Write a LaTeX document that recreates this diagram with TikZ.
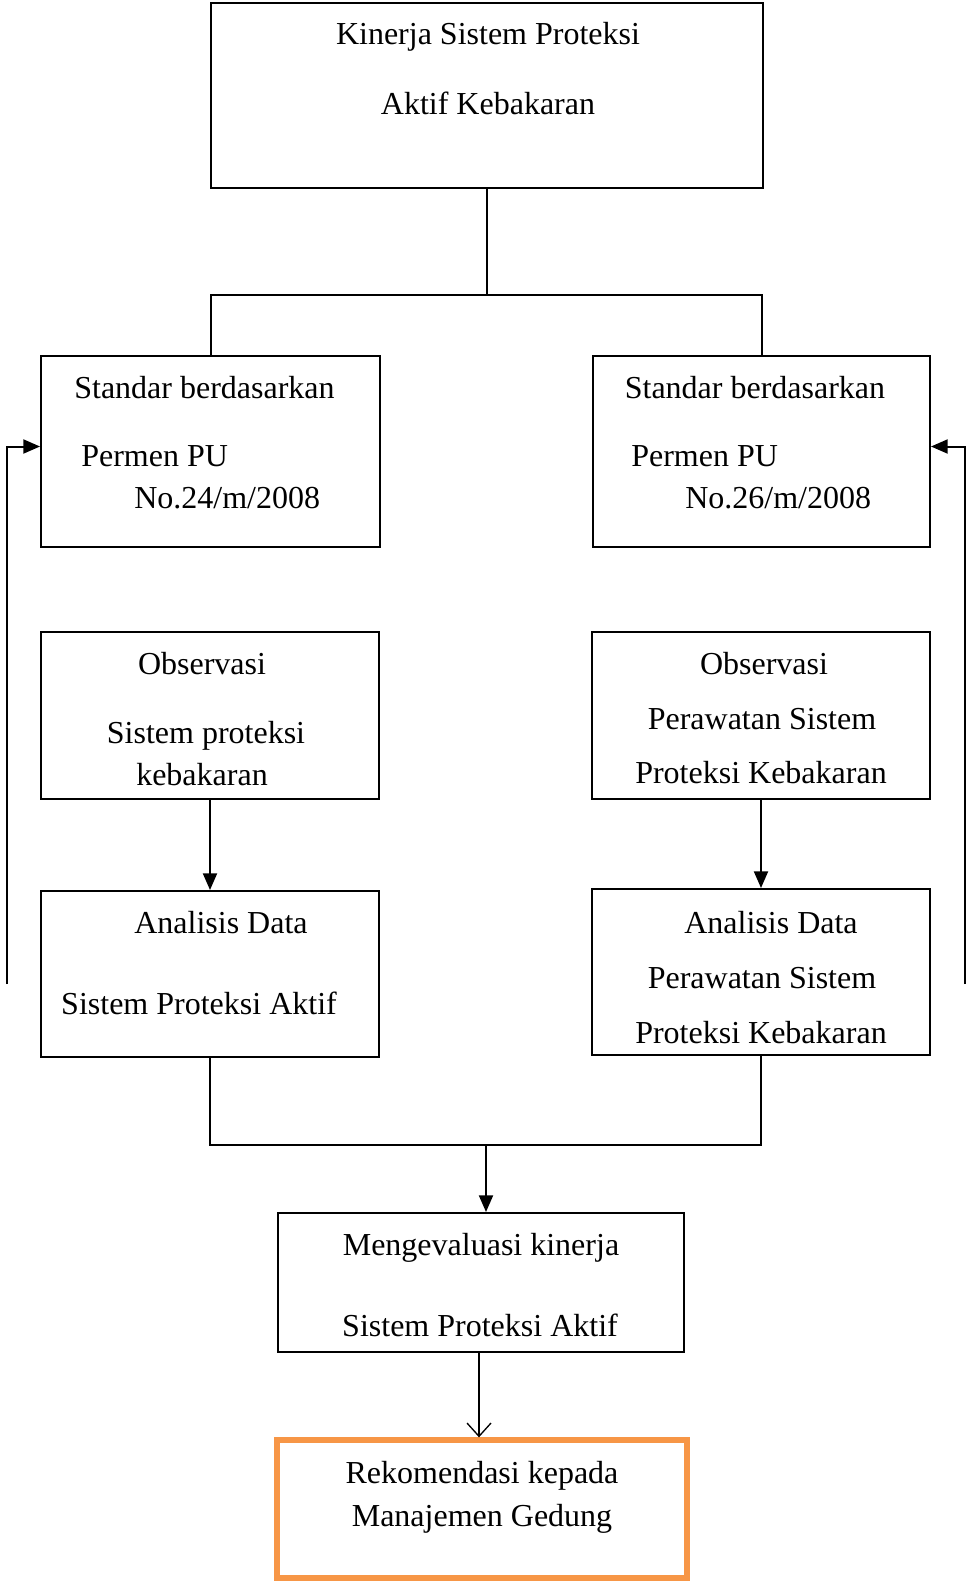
\documentclass[tikz,border=0pt]{standalone}
\usepackage{fontspec}
\setmainfont{Liberation Serif}
\usetikzlibrary{positioning,arrows.meta,calc}
\definecolor{ink}{HTML}{000000}
\definecolor{orange}{HTML}{F79646}
\tikzset{
  box/.style={draw=ink,line width=1.5pt,inner sep=0},
  orangebox/.style={draw=orange,line width=4pt,inner sep=0},
  txt/.style={font=\fontsize{24}{28}\selectfont,anchor=mid,inner sep=0},
  txtl/.style={txt,anchor=mid west},
  line/.style={draw=ink,line width=1.5pt},
  flow/.style={line,-{Triangle[length=12.5pt,width=10.5pt]}},
  thinflow/.style={draw=ink,line width=1pt,-{Straight Barb[length=10pt,width=18pt]}}}

\begin{document}
\begin{tikzpicture}[x=0.75pt,y=-0.75pt]
  \useasboundingbox (0,0) rectangle (966,1581);
  % the boxes
  \node[box,minimum width=414pt,minimum height=138.75pt] (kinerja) at (487,95.5) {};
  \node[box,minimum width=254.25pt,minimum height=143.25pt] (stdL) at (210.5,451.5) {};
  \node[box,minimum width=252.75pt,minimum height=143.25pt] (stdR) at (761.5,451.5) {};
  \node[box,minimum width=253.5pt,minimum height=125.25pt] (obsL) at (210,715.5) {};
  \node[box,minimum width=253.5pt,minimum height=125.25pt] (obsR) at (761,715.5) {};
  \node[box,minimum width=253.5pt,minimum height=124.5pt] (anaL) at (210,974) {};
  \node[box,minimum width=253.5pt,minimum height=124.5pt] (anaR) at (761,972) {};
  \node[box,minimum width=304.5pt,minimum height=104.25pt] (eval) at (481,1282.5) {};
  \node[orangebox,minimum width=307.5pt,minimum height=103.5pt] (reko) at (482,1509) {};
  % the texts, line by line
  \node[txt] (kinerja1) at (488,41) {Kinerja Sistem Proteksi};
  \node[txt] (kinerja2) at (488,111) {Aktif Kebakaran};
  \node[txt] (stdL1) at (204.5,395) {Standar berdasarkan};
  \node[txtl] (stdL2) at (81,463) {Permen PU};
  \node[txtl] (stdL3) at (134,505) {No.24/m/2008};
  \node[txt] (stdR1) at (755,395) {Standar berdasarkan};
  \node[txtl] (stdR2) at (631,463) {Permen PU};
  \node[txtl] (stdR3) at (685,505) {No.26/m/2008};
  \node[txt] (obsL1) at (202,671) {Observasi};
  \node[txt] (obsL2) at (206,740) {Sistem proteksi};
  \node[txt] (obsL3) at (202,782) {kebakaran};
  \node[txt] (obsR1) at (764,671) {Observasi};
  \node[txt] (obsR2) at (762,726) {Perawatan Sistem};
  \node[txt] (obsR3) at (761,780) {Proteksi Kebakaran};
  \node[txt] (anaL1) at (221,930) {Analisis Data};
  \node[txt] (anaL2) at (199,1011) {Sistem Proteksi Aktif};
  \node[txt] (anaR1) at (771,930) {Analisis Data};
  \node[txt] (anaR2) at (762,985) {Perawatan Sistem};
  \node[txt] (anaR3) at (761,1040) {Proteksi Kebakaran};
  \node[txt] (eval1) at (481,1252) {Mengevaluasi kinerja};
  \node[txt] (eval2) at (480,1333) {Sistem Proteksi Aktif};
  \node[txt] (reko1) at (482,1480) {Rekomendasi kepada};
  \node[txt] (reko2) at (482,1523) {Manajemen Gedung};
  % connectors
  \coordinate (splitT) at (487,295);
  \coordinate (splitB) at (486,1145);
  \coordinate (evalOut) at (479,1352);
  \coordinate (loopL) at (7,984);
  \coordinate (loopR) at (965,984);
  \draw[line] (kinerja.south) -- (splitT);
  \draw[line] (stdL.north) |- (splitT) -| (stdR.north);
  \draw[flow] (obsL.south) -- (anaL.north);
  \draw[flow] (obsR.south) -- (anaR.north);
  \draw[line] (anaL.south) |- (splitB) -| (anaR.south);
  \draw[flow] (splitB) -- (splitB |- eval.north);
  \draw[thinflow] (evalOut) -- (evalOut |- reko.north);
  \draw[flow] (loopL) |- ($(stdL.west)+(0,-5)$);
  \draw[flow] (loopR) |- ($(stdR.east)+(0,-5)$);
\end{tikzpicture}
\end{document}
